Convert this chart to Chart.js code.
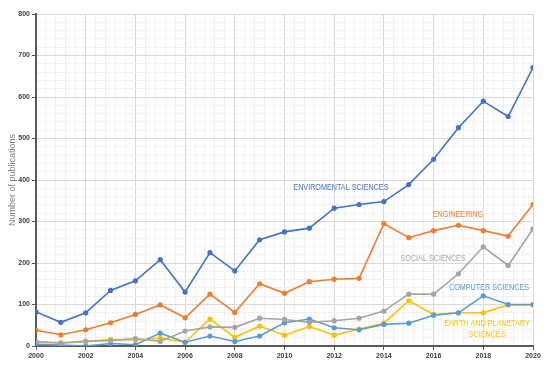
<!DOCTYPE html>
<html>
<head>
<meta charset="utf-8">
<script src="https://cdn.jsdelivr.net/npm/chart.js@4"></script>
<style>
  html, body { margin: 0; padding: 0; background: #fff; }
  #wrap { width: 550px; height: 368px; }
</style>
</head>
<body>
<div id="wrap"><canvas id="pubChart"></canvas></div>
<script>
const years = [2000, 2001, 2002, 2003, 2004, 2005, 2006, 2007, 2008, 2009, 2010,
  2011, 2012, 2013, 2014, 2015, 2016, 2017, 2018, 2019, 2020];

const enviromental = [82, 57, 80, 134, 157, 208, 130, 225, 181, 256, 275, 284, 332, 341, 348, 389, 450, 526, 590, 553, 671];
const engineering = [38, 27, 39, 56, 76, 99, 68, 125, 81, 150, 127, 155, 161, 163, 295, 261, 278, 291, 278, 265, 341];
const social = [11, 7, 12, 13, 18, 11, 36, 46, 45, 67, 64, 57, 61, 67, 84, 125, 125, 174, 239, 194, 282];
const computer = [4, 2, 0, 6, 3, 31, 9, 24, 11, 24, 56, 65, 44, 39, 52, 55, 74, 80, 121, 100, 100];
const earth = [9, 8, 10, 16, 14, 19, 9, 65, 21, 48, 26, 47, 26, 41, 55, 109, 76, 80, 80, 99, 99];

// series labels written on the plot (year, value)
const notes = [
  { text: 'ENVIROMENTAL SCIENCES', x: 2012.27, y: 383, color: '#4472C4' },
  { text: 'ENGINEERING', x: 2016.98, y: 318, color: '#ED7D31' },
  { text: 'SOCIAL SCIENCES', x: 2015.98, y: 210, color: '#A5A5A5' },
  { text: 'COMPUTER SCIENCES', x: 2018.23, y: 140, color: '#5B9BD5' },
  { text: 'EARTH AND PLANETARY', x: 2018.15, y: 53, color: '#FFC000' },
  { text: 'SCIENCES', x: 2018.15, y: 26.5, color: '#FFC000' }
];

function pts(vals) {
  return vals.map((v, i) => ({ x: years[i], y: v }));
}

function series(label, vals, color) {
  return {
    label: label,
    data: pts(vals),
    borderColor: color,
    backgroundColor: color,
    borderWidth: 1.6,
    pointRadius: 2.6,
    pointHoverRadius: 2.6,
    pointBorderWidth: 0,
    tension: 0
  };
}

function near(v, step) {
  return Math.abs(v / step - Math.round(v / step)) < 1e-6;
}

// labels are squeezed horizontally to look like the narrow office font
const notesPlugin = {
  id: 'notes',
  afterDatasetsDraw(chart) {
    const ctx = chart.ctx;
    const xs = chart.scales.x;
    const ys = chart.scales.y;
    for (let n of notes) {
      ctx.save();
      ctx.font = '9px "Liberation Sans", Arial, sans-serif';
      ctx.textAlign = 'center';
      ctx.textBaseline = 'middle';
      ctx.fillStyle = n.color;
      ctx.translate(xs.getPixelForValue(n.x), ys.getPixelForValue(n.y));
      ctx.scale(0.8, 1);
      ctx.fillText(n.text, 0, 0);
      ctx.restore();
    }
  }
};

const tickFont = { family: '"Liberation Sans", Arial, sans-serif', size: 7, weight: 'bold' };

new Chart(document.getElementById('pubChart').getContext('2d'), {
  type: 'line',
  data: {
    datasets: [
      series('Enviromental sciences', enviromental, '#4472C4'),
      series('Engineering', engineering, '#ED7D31'),
      series('Social sciences', social, '#A5A5A5'),
      series('Computer sciences', computer, '#5B9BD5'),
      series('Earth and planetary sciences', earth, '#FFC000')
    ]
  },
  options: {
    responsive: true,
    maintainAspectRatio: false,
    animation: false,
    layout: { padding: { top: 14, right: 17, left: 0, bottom: 0 } },
    plugins: {
      legend: { display: false },
      tooltip: { enabled: false }
    },
    scales: {
      x: {
        type: 'linear',
        min: 2000,
        max: 2020,
        afterFit: (s) => { s.height = 22; },
        ticks: {
          stepSize: 0.4,
          autoSkip: false,
          maxRotation: 0,
          padding: 2,
          color: '#404040',
          font: tickFont,
          callback: (v) => (near(v, 2) ? String(Math.round(v)) : '')
        },
        grid: {
          color: (c) => (c.tick && near(c.tick.value, 2) ? '#d9d9d9' : '#f0f0f0'),
          tickColor: (c) => (c.tick && near(c.tick.value, 2) ? '#595959' : 'rgba(0,0,0,0)'),
          tickLength: 4
        },
        border: { color: '#595959', width: 2 }
      },
      y: {
        min: 0,
        max: 800,
        afterFit: (s) => { s.width = 36; },
        title: {
          display: true,
          text: 'Number of publications',
          color: '#7f7f7f',
          font: { family: '"Liberation Sans", Arial, sans-serif', size: 9 },
          padding: { top: 7, bottom: 0 }
        },
        ticks: {
          stepSize: 20,
          autoSkip: false,
          padding: 2,
          color: '#404040',
          font: tickFont,
          callback: (v) => (near(v, 100) ? String(Math.round(v)) : '')
        },
        grid: {
          color: (c) => (c.tick && near(c.tick.value, 100) ? '#d9d9d9' : '#f0f0f0'),
          tickColor: (c) => (c.tick && near(c.tick.value, 100) ? '#595959' : 'rgba(0,0,0,0)'),
          tickLength: 4
        },
        border: { color: '#595959', width: 2 }
      }
    }
  },
  plugins: [notesPlugin]
});
</script>
</body>
</html>
